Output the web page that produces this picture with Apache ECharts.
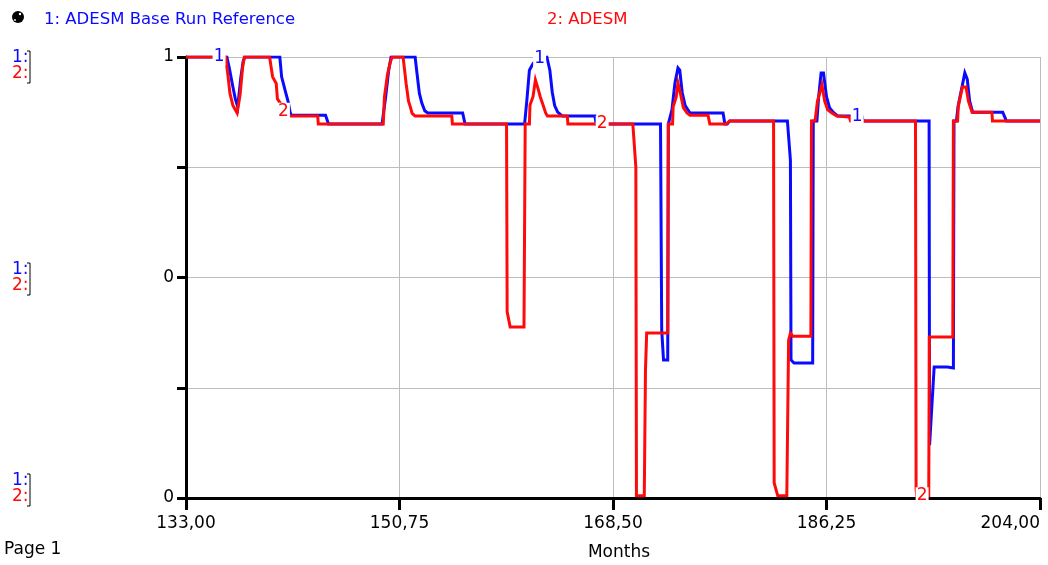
<!DOCTYPE html>
<html>
<head>
<meta charset="utf-8">
<script src="https://cdn.jsdelivr.net/npm/echarts@6/dist/echarts.min.js"></script>
<style>
  html, body { margin: 0; padding: 0; background: #fff; }
  #chart { width: 1048px; height: 565px; }
</style>
</head>
<body>
<div id="chart"></div>
<script>
// Time axis (months) and tick layout
const xStart = 133;
const xEnd = 204;
const xTicks = [133, 150.75, 168.5, 186.25, 204];
const yTicks = [0, 0.25, 0.5, 0.75, 1];
const yTickLabels = ['0', '', '0', '', '1'];

// 1: ADESM Base Run Reference
const refMonths = [
  133, 136.4, 136.6, 136.9, 137.1, 137.3, 137.55, 137.75, 137.9,
  140.8, 140.95, 141.3, 141.5, 141.65, 141.75, 144.6, 144.85,
  149.3, 149.6, 149.85, 150.05, 152.05, 152.2, 152.4, 152.6, 152.85, 153.1,
  156.0, 156.2, 161.15, 161.35, 161.55, 161.85, 162.2, 163.0, 163.25, 163.45,
  163.65, 163.9, 164.3, 167.0, 167.1,
  172.45, 172.55, 172.7, 173.05, 173.1, 173.25, 173.4, 173.65, 173.9, 174.05,
  174.25, 174.5, 174.9, 177.65, 177.8, 178.0, 178.2,
  183.0, 183.25, 183.3, 183.55, 185.1, 185.15, 185.45, 185.6, 185.8, 186.0,
  186.25, 186.5, 186.8, 187.2, 189.2, 189.3,
  194.78, 194.82, 195.2, 196.3, 196.8, 196.85, 197.05, 197.2, 197.5, 197.75,
  197.95, 198.15, 198.4, 200.9, 201.1, 201.2, 204
];
const refValues = [
  1, 1, 0.975, 0.932, 0.905, 0.887, 0.952, 0.99, 1,
  1, 0.955, 0.918, 0.898, 0.875, 0.868, 0.868, 0.848,
  0.848, 0.91, 0.97, 1, 1, 0.964, 0.918, 0.896, 0.878, 0.873,
  0.873, 0.848, 0.848, 0.905, 0.97, 0.985, 0.995, 1, 0.97, 0.92,
  0.89, 0.875, 0.866, 0.866, 0.848,
  0.848, 0.381, 0.313, 0.313, 0.848, 0.848, 0.88, 0.941, 0.975, 0.97,
  0.92, 0.89, 0.873, 0.873, 0.848, 0.848, 0.855,
  0.855, 0.766, 0.313, 0.306, 0.306, 0.855, 0.855, 0.91, 0.964, 0.964,
  0.91, 0.885, 0.875, 0.866, 0.866, 0.855,
  0.855, 0.12, 0.297, 0.297, 0.295, 0.855, 0.855, 0.89, 0.93, 0.964,
  0.95, 0.9, 0.875, 0.875, 0.862, 0.855, 0.855
];

// 2: ADESM
const adesmMonths = [
  133, 136.3, 136.5, 136.65, 136.9, 137.25, 137.5, 137.7, 137.85,
  139.95, 140.2, 140.5, 140.6, 140.9, 141.15, 141.6, 143.95, 144.0,
  149.4, 149.5, 149.75, 150.0, 150.15, 151.05, 151.3, 151.5, 151.65, 151.8, 152.05,
  155.1, 155.15, 159.65, 159.7, 159.95, 161.1, 161.2, 161.55, 161.6, 161.85,
  162.05, 162.25, 162.45, 162.7, 162.9, 163.05, 164.7, 164.75,
  170.15, 170.4, 170.45, 171.1, 171.2, 171.3, 173.05, 173.1, 173.45, 173.5,
  173.75, 173.9, 174.1, 174.35, 174.65, 174.9, 176.4, 176.55, 177.9, 178.2,
  181.85, 181.9, 182.2, 182.95, 183.1, 183.25, 183.45, 184.95, 185.0, 185.3,
  185.5, 185.7, 185.87, 186.1, 186.35, 186.7, 187.1, 188.15, 188.25,
  193.65, 193.7, 193.75, 194.75, 194.8, 196.75, 196.8, 197.15, 197.2, 197.55,
  197.85, 198.05, 198.35, 200.0, 200.05, 204
];
const adesmValues = [
  1, 1, 0.955, 0.918, 0.89, 0.873, 0.915, 0.975, 1,
  1, 0.955, 0.94, 0.905, 0.893, 0.873, 0.866, 0.866, 0.848,
  0.848, 0.91, 0.96, 0.99, 1, 1, 0.94, 0.9, 0.887, 0.872, 0.866,
  0.866, 0.848, 0.848, 0.422, 0.388, 0.388, 0.848, 0.848, 0.891, 0.91,
  0.948, 0.93, 0.91, 0.89, 0.873, 0.866, 0.866, 0.848,
  0.848, 0.75, 0.005, 0.005, 0.29, 0.374, 0.374, 0.848, 0.848, 0.887,
  0.909, 0.941, 0.918, 0.885, 0.873, 0.868, 0.868, 0.848, 0.848, 0.855,
  0.855, 0.034, 0.005, 0.005, 0.358, 0.374, 0.367, 0.367, 0.855, 0.855,
  0.9, 0.92, 0.937, 0.9, 0.88, 0.873, 0.866, 0.864, 0.855,
  0.855, 0.02, 0.005, 0.005, 0.365, 0.365, 0.855, 0.855, 0.887, 0.932,
  0.932, 0.9, 0.875, 0.875, 0.855, 0.855
];

// Months where each curve carries its number tag
const refTagMonths = [135.75, 162.4, 188.8];
const adesmTagMonths = [141.1, 167.6, 194.2];

const REF_COLOR = '#0a0aff';
const ADESM_COLOR = '#ff0a0a';
const FONT = "'DejaVu Sans', sans-serif";

function toPairs(months, values) {
  return months.map((m, i) => [m - xStart, values[i]]);
}

function valueAt(months, values, m) {
  for (let i = 1; i < months.length; i++) {
    if (m <= months[i]) {
      const t = (m - months[i - 1]) / (months[i] - months[i - 1]);
      return values[i - 1] + t * (values[i] - values[i - 1]);
    }
  }
  return values[values.length - 1];
}

function tags(months, values, tagMonths, text, color) {
  return tagMonths.map(m => ({
    value: [m - xStart, valueAt(months, values, m)],
    label: { formatter: text, color: color }
  }));
}

function fmtMonth(v) {
  return v.toFixed(2).replace('.', ',');
}

const chart = echarts.init(document.getElementById('chart'), null, { renderer: 'canvas' });

// side markers "1:" / "2:" with bracket, repeated at top, middle and bottom
const sideMarkers = [];
[58, 270, 481].forEach(y => {
  sideMarkers.push({ type: 'text', left: 12, top: y - 9, style: { text: '1:', fill: REF_COLOR, font: '17px ' + FONT } });
  sideMarkers.push({ type: 'text', left: 12, top: y + 7, style: { text: '2:', fill: ADESM_COLOR, font: '17px ' + FONT } });
  sideMarkers.push({ type: 'polyline', shape: { points: [[27, y - 7], [30, y - 7], [30, y + 25], [27, y + 25]] }, style: { stroke: '#000', lineWidth: 1, fill: null } });
});

chart.setOption({
  animation: false,
  backgroundColor: '#fff',
  grid: { left: 186, right: 8, top: 57, bottom: 67, containLabel: false, outerBoundsMode: 'none' },
  xAxis: {
    type: 'value',
    min: 0,
    max: xEnd - xStart,
    interval: (xTicks[1] - xTicks[0]),
    name: 'Months',
    nameLocation: 'middle',
    nameGap: 46,
    nameTextStyle: { fontFamily: FONT, fontSize: 17, color: '#000', padding: [0, 0, 0, 12] },
    axisLine: { show: true, onZero: false, lineStyle: { color: '#000', width: 3 } },
    axisTick: { show: true, inside: false, length: 12, lineStyle: { color: '#000', width: 3 } },
    axisLabel: {
      margin: 17,
      fontFamily: FONT,
      fontSize: 17,
      color: '#000',
      alignMaxLabel: 'right',
      formatter: v => fmtMonth(v + xStart)
    },
    splitLine: { show: true, lineStyle: { color: '#bdbdbd', width: 1 } }
  },
  yAxis: {
    type: 'value',
    min: yTicks[0],
    max: yTicks[yTicks.length - 1],
    interval: yTicks[1] - yTicks[0],
    axisLine: { show: true, onZero: false, lineStyle: { color: '#000', width: 3 } },
    axisTick: { show: true, inside: false, length: 9, lineStyle: { color: '#000', width: 3 } },
    axisLabel: {
      margin: 12,
      fontFamily: FONT,
      fontSize: 17,
      color: '#000',
      formatter: v => {
        const i = yTicks.findIndex(t => Math.abs(t - v) < 1e-9);
        return i >= 0 ? yTickLabels[i] : '';
      }
    },
    splitLine: { show: true, lineStyle: { color: '#bdbdbd', width: 1 } }
  },
  graphic: [
    { type: 'circle', shape: { cx: 18, cy: 17, r: 6 }, style: { fill: '#000' } },
    { type: 'circle', shape: { cx: 20, cy: 14, r: 1.2 }, style: { fill: '#fff' } },
    { type: 'circle', shape: { cx: 15, cy: 20, r: 0.9 }, style: { fill: '#fff' } },
    { type: 'text', left: 44, top: 11, style: { text: '1: ADESM Base Run Reference', fill: REF_COLOR, font: '16.5px ' + FONT } },
    { type: 'text', left: 547, top: 11, style: { text: '2: ADESM', fill: ADESM_COLOR, font: '16.5px ' + FONT } },
    { type: 'text', left: 4, top: 541, style: { text: 'Page 1', fill: '#000', font: '17px ' + FONT } }
  ].concat(sideMarkers),
  series: [
    {
      name: '1: ADESM Base Run Reference',
      type: 'line',
      data: toPairs(refMonths, refValues),
      showSymbol: false,
      lineStyle: { color: REF_COLOR, width: 3, join: 'miter' },
      itemStyle: { color: REF_COLOR },
      z: 2
    },
    {
      name: '2: ADESM',
      type: 'line',
      data: toPairs(adesmMonths, adesmValues),
      showSymbol: false,
      lineStyle: { color: ADESM_COLOR, width: 3, join: 'miter' },
      itemStyle: { color: ADESM_COLOR },
      z: 3
    },
    {
      name: 'tags',
      type: 'scatter',
      z: 5,
      symbol: 'rect',
      symbolSize: [13, 17],
      itemStyle: { color: '#fff', opacity: 1 },
      label: { show: true, position: 'inside', fontFamily: FONT, fontSize: 17, opacity: 1 },
      emphasis: { disabled: true },
      data: tags(refMonths, refValues, refTagMonths, '1', REF_COLOR)
        .concat(tags(adesmMonths, adesmValues, adesmTagMonths, '2', ADESM_COLOR))
    }
  ]
});
</script>
</body>
</html>
